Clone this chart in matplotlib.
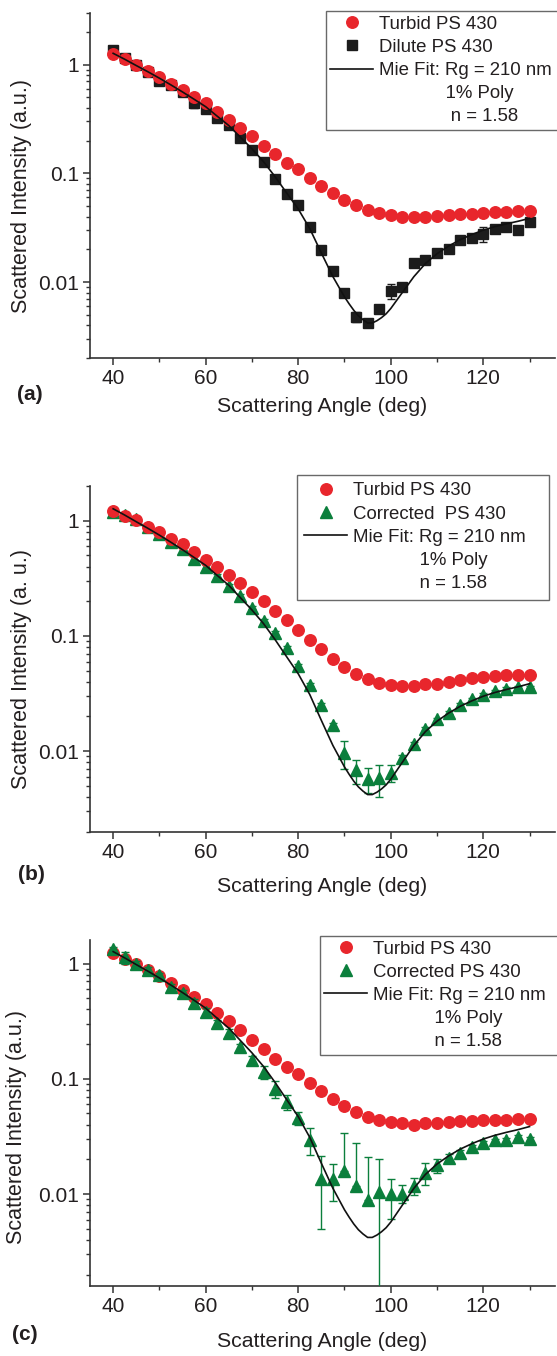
import numpy as np
import matplotlib
matplotlib.use('Agg')
import matplotlib.pyplot as plt
from matplotlib.lines import Line2D
from matplotlib.ticker import FixedLocator, FuncFormatter, LogLocator, NullFormatter, MultipleLocator

plt.rcParams['font.family'] = ['Liberation Sans', 'DejaVu Sans']

# scattering angles (deg), same grid for every panel
angle = [40, 42.5, 45, 47.5, 50, 52.5, 55, 57.5, 60, 62.5, 65, 67.5, 70, 72.5, 75,
         77.5, 80, 82.5, 85, 87.5, 90, 92.5, 95, 97.5, 100, 102.5, 105, 107.5, 110,
         112.5, 115, 117.5, 120, 122.5, 125, 127.5, 130]

# (a)
turbid_a = [1.26, 1.12, 1.00, 0.88, 0.77, 0.66, 0.59, 0.50, 0.44, 0.37, 0.31, 0.26, 0.22,
            0.178, 0.150, 0.125, 0.110, 0.091, 0.077, 0.066, 0.057, 0.051, 0.046, 0.043,
            0.041, 0.040, 0.040, 0.040, 0.0405, 0.041, 0.042, 0.0426, 0.0435, 0.044,
            0.0445, 0.0447, 0.045]
dilute_a = [1.37, 1.16, 0.99, 0.855, 0.71, 0.645, 0.56, 0.44, 0.39, 0.325, 0.277, 0.211,
            0.165, 0.127, 0.088, 0.065, 0.0515, 0.032, 0.0199, 0.0126, 0.0080, 0.00476,
            0.0042, 0.0056, 0.0083, 0.0090, 0.0148, 0.0158, 0.0186, 0.0203, 0.0242, 0.0254,
            0.0279, 0.031, 0.032, 0.030, 0.0356]
dilute_a_err = [0.12, 0.04, 0.05, 0.03, 0.02, 0.02, 0.02, 0.045, 0.015, 0.015, 0.02, 0.008,
                0.006, 0.005, 0.003, 0.004, 0.002, 0.001, 0.0006, 0.0004, 0.0003, 0.0005,
                0.0002, 0.0003, 0.0013, 0.0004, 0.0012, 0.0012, 0.0006, 0.0006, 0.0015,
                0.0008, 0.0045, 0.0008, 0.0008, 0.0008, 0.001]

# (b)
turbid_b = [1.22, 1.11, 1.01, 0.89, 0.80, 0.70, 0.63, 0.54, 0.46, 0.40, 0.34, 0.286, 0.24,
            0.20, 0.164, 0.137, 0.112, 0.092, 0.077, 0.0635, 0.0537, 0.0467, 0.0423, 0.039,
            0.0375, 0.0365, 0.037, 0.038, 0.038, 0.0398, 0.0417, 0.043, 0.044, 0.0445,
            0.0454, 0.046, 0.046]
corrected_b = [1.20, 1.12, 1.03, 0.875, 0.766, 0.65, 0.567, 0.47, 0.40, 0.33, 0.271, 0.222,
               0.176, 0.136, 0.106, 0.0787, 0.0552, 0.0377, 0.0252, 0.0169, 0.0096, 0.0068,
               0.0057, 0.0058, 0.0065, 0.0087, 0.0115, 0.0155, 0.0189, 0.0216, 0.0252,
               0.0283, 0.0308, 0.033, 0.0348, 0.036, 0.036]
corrected_b_err = [0.05, 0.04, 0.04, 0.03, 0.03, 0.025, 0.02, 0.02, 0.015, 0.012, 0.01, 0.008,
                   0.006, 0.005, 0.004, 0.003, 0.002, 0.0012, 0.0008, 0.0008, 0.0026, 0.0016,
                   0.0014, 0.0018, 0.0011, 0.0006, 0.0005, 0.0006, 0.0006, 0.0006, 0.0008,
                   0.0008, 0.0009, 0.001, 0.001, 0.001, 0.001]

# (c)
turbid_c = [1.24, 1.10, 1.00, 0.887, 0.776, 0.68, 0.595, 0.51, 0.443, 0.373, 0.318, 0.264,
            0.219, 0.181, 0.150, 0.127, 0.110, 0.092, 0.078, 0.0665, 0.0578, 0.0516, 0.0468,
            0.0437, 0.0418, 0.041, 0.040, 0.041, 0.0414, 0.0423, 0.043, 0.0433, 0.0437,
            0.0437, 0.044, 0.0445, 0.0445]
corrected_c = [1.35, 1.13, 1.00, 0.875, 0.79, 0.62, 0.55, 0.455, 0.38, 0.305, 0.25, 0.187,
               0.147, 0.115, 0.082, 0.063, 0.046, 0.0297, 0.0134, 0.0136, 0.0159, 0.0117,
               0.0089, 0.0104, 0.0100, 0.0101, 0.0118, 0.0153, 0.0178, 0.0207, 0.0228,
               0.0257, 0.0278, 0.0293, 0.0297, 0.031, 0.0303]
corrected_c_err_hi = [0.05, 0.13, 0.06, 0.05, 0.04, 0.04, 0.04, 0.035, 0.03, 0.02, 0.02, 0.015,
                      0.012, 0.015, 0.014, 0.009, 0.006, 0.008, 0.008, 0.0045, 0.018, 0.0158,
                      0.0119, 0.0096, 0.0034, 0.0018, 0.002, 0.0033, 0.0025, 0.0015, 0.0012,
                      0.001, 0.001, 0.001, 0.0012, 0.0012, 0.0012]
corrected_c_err_lo = [0.05, 0.13, 0.06, 0.05, 0.04, 0.04, 0.04, 0.035, 0.03, 0.02, 0.02, 0.015,
                      0.012, 0.015, 0.014, 0.009, 0.006, 0.008, 0.0084, 0.0049, 0.0, 0.0,
                      0.0, 0.01039, 0.0039, 0.0018, 0.002, 0.0033, 0.0025, 0.0015, 0.0012,
                      0.001, 0.001, 0.001, 0.0012, 0.0012, 0.0012]

# Mie fit curve (same in all panels)
fit_angle = [40, 42.5, 45, 47.5, 50, 52.5, 55, 57.5, 60, 62.5, 65, 67.5, 70, 72.5, 75, 77.5,
             80, 82.5, 85, 87.5, 90, 91, 92, 93, 94, 95, 96, 97, 98, 99, 100, 102.5, 105,
             107.5, 110, 112.5, 115, 117.5, 120, 122.5, 125, 127.5, 130]
fit_value = [1.27, 1.12, 0.98, 0.86, 0.75, 0.65, 0.56, 0.48, 0.41, 0.335, 0.275, 0.215, 0.168,
             0.128, 0.093, 0.066, 0.047, 0.031, 0.0185, 0.0112, 0.0073, 0.0063, 0.0055,
             0.0049, 0.0045, 0.0042, 0.0042, 0.0044, 0.0047, 0.0051, 0.0057, 0.0080, 0.0112,
             0.0148, 0.0182, 0.0214, 0.0245, 0.0273, 0.0300, 0.0323, 0.0343, 0.0362, 0.0385]

RED = '#e8262c'
GREEN = '#0b7f3c'
BLACK = '#1c1c1c'
TXT = '#231f20'

fig = plt.figure(figsize=(5.57, 13.56), dpi=100)
ax_a = fig.add_axes([0.1616, 0.7360, 0.8348, 0.2546])
ax_b = fig.add_axes([0.1616, 0.38665, 0.8348, 0.2549])
ax_c = fig.add_axes([0.1616, 0.05184, 0.8348, 0.2549])


def style(ax, ylim, ylabel, ylab_xy, xlab_y):
    ax.set_yscale('log')
    ax.set_xlim(35, 135.5)
    ax.set_ylim(*ylim)
    for s in ['top', 'right']:
        ax.spines[s].set_visible(False)
    for s in ['left', 'bottom']:
        ax.spines[s].set_linewidth(1.2)
        ax.spines[s].set_color('#333333')
    ax.xaxis.set_major_locator(MultipleLocator(20))
    ax.xaxis.set_minor_locator(MultipleLocator(10))
    ax.yaxis.set_major_locator(FixedLocator([0.01, 0.1, 1]))
    ax.yaxis.set_major_formatter(FuncFormatter(lambda v, p: '%g' % v))
    ax.yaxis.set_minor_locator(LogLocator(base=10, subs=np.arange(2, 10)))
    ax.yaxis.set_minor_formatter(NullFormatter())
    ax.tick_params(which='major', direction='out', length=5, width=1.1, color='#333333',
                   labelsize=15, labelcolor=TXT, pad=3)
    ax.tick_params(which='minor', direction='out', length=3, width=1.0, color='#333333')
    ax.set_xlabel('Scattering Angle (deg)', fontsize=15.3, color=TXT)
    ax.set_ylabel(ylabel, fontsize=15.5, color=TXT)
    ax.yaxis.set_label_coords(*ylab_xy)
    ax.xaxis.set_label_coords(0.5, xlab_y)


def add_legend(ax, marker_handle, label2, box, pad, spaces):
    blank = Line2D([], [], linestyle='none', marker=None)
    handles = [ax.lines_turbid, marker_handle, ax.lines_fit, blank, blank]
    labels = ['Turbid PS 430', label2, 'Mie Fit: Rg = 210 nm',
              ' ' * spaces[0] + '1% Poly', ' ' * spaces[1] + 'n = 1.58']
    leg = ax.legend(handles, labels, loc='upper left', bbox_to_anchor=box, mode='expand',
                    borderaxespad=0, fontsize=13.4, numpoints=1, handlelength=2.3,
                    handletextpad=0.3, labelspacing=0.33, borderpad=pad, fancybox=False,
                    frameon=True, shadow=False)
    leg.get_frame().set_edgecolor('#444444')
    leg.get_frame().set_linewidth(1.0)
    for t in leg.get_texts():
        t.set_color(TXT)
    leg.set_clip_on(False)


# panel (a)
eb = ax_a.errorbar(angle, dilute_a, yerr=dilute_a_err, fmt='s', ms=7.5, color=BLACK,
                   ecolor=BLACK, elinewidth=1, capsize=3, capthick=1, zorder=2)
ax_a.lines_turbid, = ax_a.plot(angle, turbid_a, 'o', ms=8.3, color=RED, mec=RED, zorder=3)
ax_a.lines_fit, = ax_a.plot(fit_angle, fit_value, '-', color='#111111', lw=1.2, zorder=4)
style(ax_a, (0.002, 3), 'Scattered Intensity (a.u.)', (-0.125, 0.47), -0.113)
add_legend(ax_a, eb.lines[0], 'Dilute PS 430', (0.507, 0.5, 0.53, 0.505), 0.25, (13, 14))

# panel (b)
eb = ax_b.errorbar(angle, corrected_b, yerr=corrected_b_err, fmt='^', ms=8.3, color=GREEN,
                   ecolor=GREEN, elinewidth=1, capsize=3, capthick=1, zorder=2)
ax_b.lines_turbid, = ax_b.plot(angle, turbid_b, 'o', ms=8.3, color=RED, mec=RED, zorder=3)
ax_b.lines_fit, = ax_b.plot(fit_angle, fit_value, '-', color='#111111', lw=1.2, zorder=4)
style(ax_b, (0.002, 2), 'Scattered Intensity (a. u.)', (-0.125, 0.47), -0.13)
add_legend(ax_b, eb.lines[0], 'Corrected  PS 430', (0.445, 0.5, 0.542, 0.532), 0.4, (13, 13))

# panel (c)
eb = ax_c.errorbar(angle, corrected_c, yerr=[corrected_c_err_lo, corrected_c_err_hi], fmt='^',
                   ms=8.3, color=GREEN, ecolor=GREEN, elinewidth=1, capsize=3, capthick=1,
                   zorder=3)
ax_c.lines_turbid, = ax_c.plot(angle, turbid_c, 'o', ms=8.3, color=RED, mec=RED, zorder=2)
ax_c.lines_fit, = ax_c.plot(fit_angle, fit_value, '-', color='#111111', lw=1.2, zorder=4)
style(ax_c, (0.0016, 1.6), 'Scattered Intensity (a.u.)', (-0.136, 0.458), -0.133)
add_legend(ax_c, eb.lines[0], 'Corrected PS 430', (0.494, 0.5, 0.53, 0.512), 0.25, (12, 12))

# panel tags
fig.text(30 / 557, 1 - 395 / 1356, '(a)', fontsize=15, fontweight='bold', color=TXT,
         ha='center', va='center')
fig.text(31 / 557, 1 - 874 / 1356, '(b)', fontsize=15, fontweight='bold', color=TXT,
         ha='center', va='center')
fig.text(25 / 557, 1 - 1334 / 1356, '(c)', fontsize=15, fontweight='bold', color=TXT,
         ha='center', va='center')

fig.savefig('out.png', dpi=100)
